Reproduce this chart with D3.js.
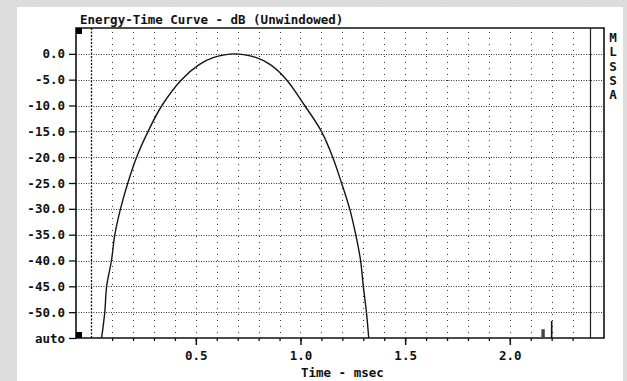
<!DOCTYPE html>
<html>
<head>
<meta charset="utf-8"/>
<title>Energy-Time Curve</title>
<script src="https://d3js.org/d3.v7.min.js"></script>
<style>
  html, body { margin: 0; padding: 0; background: #d6d6d6; }
  text { font-family: "DejaVu Sans Mono", "Liberation Mono", monospace; font-weight: bold; fill: #111; }
</style>
</head>
<body>
<div id="output"></div>
<script>
// ETC curve (time in msec, level in dB)
var curveTime = [0.050, 0.065, 0.074, 0.097, 0.113, 0.140, 0.175, 0.217, 0.272, 0.338, 0.432,
                 0.516, 0.586, 0.686, 0.786, 0.856, 0.933, 1.020, 1.100, 1.154, 1.196, 1.235, 1.264,
                 1.287, 1.300, 1.315, 1.326];
var curveDb   = [-55, -50, -45, -40, -35, -30, -25, -20, -15, -10, -5,
                 -2.1, -0.7, 0, -0.7, -2.1, -5, -10, -15, -20, -25, -30, -35,
                 -40, -45, -50, -55];

// small reflections near 2.2 msec
var spikeTime = [2.159, 2.200];
var spikeDb   = [-53.3, -51.7];

// axis ticks
var yTicks  = [0, -5, -10, -15, -20, -25, -30, -35, -40, -45, -50, -55];
var yLabels = ["0.0", "-5.0", "-10.0", "-15.0", "-20.0", "-25.0", "-30.0", "-35.0", "-40.0", "-45.0", "-50.0", "auto"];
var xMinor  = [0.1, 0.2, 0.3, 0.4, 0.5, 0.6, 0.7, 0.8, 0.9, 1.0, 1.1, 1.2, 1.3, 1.4, 1.5, 1.6, 1.7, 1.8, 1.9, 2.0, 2.1, 2.2, 2.3];
var xMajor  = [0.5, 1.0, 1.5, 2.0];
var cursorTime = 2.383;
var sideLetters = ["M", "L", "S", "S", "A"];

var W = 627, H = 381;
var svg = d3.select("#output").append("svg")
    .attr("width", W).attr("height", H);

// grey stone-like backdrop
var defs = svg.append("defs");
var f = defs.append("filter").attr("id", "stone").attr("x", 0).attr("y", 0).attr("width", 1).attr("height", 1);
f.append("feTurbulence").attr("type", "fractalNoise").attr("baseFrequency", "0.1 0.25").attr("numOctaves", 3).attr("seed", 4);
f.append("feColorMatrix").attr("type", "matrix")
    .attr("values", "0 0 0 0 0.72  0 0 0 0 0.72  0 0 0 0 0.72  -1 0 0 0 0.8");
svg.append("rect").attr("width", W).attr("height", H).attr("fill", "#dcdcdc");
svg.append("rect").attr("width", W).attr("height", H).attr("filter", "url(#stone)").attr("opacity", 0.75);

// white panel
svg.append("rect").attr("x", 17).attr("y", 7).attr("width", 606).attr("height", H - 7).attr("fill", "#fff");

var pLeft = 76, pRight = 604, pTop = 28, pBottom = 338;
var x = d3.scaleLinear().domain([-0.0725, 2.45]).range([pLeft, pRight]);
var y = d3.scaleLinear().domain([5, -55]).range([pTop, pBottom]);

// horizontal grid
svg.append("g").selectAll("line").data(yTicks.slice(0, -1)).enter().append("line")
    .attr("x1", pLeft).attr("x2", pRight)
    .attr("y1", function(d) { return Math.round(y(d)) + 0.5; })
    .attr("y2", function(d) { return Math.round(y(d)) + 0.5; })
    .attr("stroke", "#333").attr("stroke-width", 1).attr("stroke-dasharray", "1,1.5");

// vertical grid
svg.append("g").selectAll("line").data(xMinor).enter().append("line")
    .attr("x1", function(d) { return Math.round(x(d)) + 0.5; })
    .attr("x2", function(d) { return Math.round(x(d)) + 0.5; })
    .attr("y1", pTop + 4).attr("y2", pBottom)
    .attr("stroke", "#333").attr("stroke-width", 1).attr("stroke-dasharray", "1,5");

// time zero marker
svg.append("line")
    .attr("x1", Math.round(x(0)) + 0.5).attr("x2", Math.round(x(0)) + 0.5)
    .attr("y1", pTop).attr("y2", pBottom)
    .attr("stroke", "#111").attr("stroke-width", 1.3).attr("stroke-dasharray", "2,1.5");

// cursor line
svg.append("line")
    .attr("x1", Math.round(x(cursorTime)) + 0.5).attr("x2", Math.round(x(cursorTime)) + 0.5)
    .attr("y1", pTop).attr("y2", pBottom)
    .attr("stroke", "#222").attr("stroke-width", 1.2);

// frame
svg.append("path")
    .attr("d", "M" + pLeft + "," + pBottom + "V" + pTop + "H" + pRight + "V" + pBottom + "Z")
    .attr("fill", "none").attr("stroke", "#111").attr("stroke-width", 1.6);

// y axis
var yAxis = svg.append("g")
    .attr("transform", "translate(" + pLeft + ",0)")
    .call(d3.axisLeft(y).tickValues(yTicks)
        .tickFormat(function(d, i) { return yLabels[i]; })
        .tickSize(7).tickPadding(4));
yAxis.select(".domain").remove();
yAxis.selectAll("line").attr("stroke", "#111").attr("stroke-width", 1.3);
yAxis.selectAll("text").attr("font-family", null).attr("font-size", 12.5).attr("fill", "#111");

// x axis, minor then major
var xMinorAxis = svg.append("g")
    .attr("transform", "translate(0," + pBottom + ")")
    .call(d3.axisBottom(x).tickValues(xMinor).tickSize(3).tickFormat(""));
xMinorAxis.select(".domain").remove();
xMinorAxis.selectAll("line").attr("stroke", "#111").attr("stroke-width", 1.3);

var xMajorAxis = svg.append("g")
    .attr("transform", "translate(0," + pBottom + ")")
    .call(d3.axisBottom(x).tickValues(xMajor).tickSize(7).tickPadding(6)
        .tickFormat(d3.format(".1f")));
xMajorAxis.select(".domain").remove();
xMajorAxis.selectAll("line").attr("stroke", "#111").attr("stroke-width", 1.5);
xMajorAxis.selectAll("text").attr("font-family", null).attr("font-size", 12.5).attr("fill", "#111");

// curve
var etcLine = d3.line()
    .x(function(d, i) { return x(curveTime[i]); })
    .y(function(d) { return y(d); })
    .curve(d3.curveCatmullRom.alpha(0.5));
svg.append("path").datum(curveDb)
    .attr("d", etcLine)
    .attr("fill", "none").attr("stroke", "#151515").attr("stroke-width", 1.4);

// reflections
svg.append("rect")
    .attr("x", x(spikeTime[0]) - 1.7).attr("width", 3.4)
    .attr("y", y(spikeDb[0])).attr("height", pBottom - y(spikeDb[0]))
    .attr("fill", "#444");
svg.append("line")
    .attr("x1", x(spikeTime[1])).attr("x2", x(spikeTime[1]))
    .attr("y1", y(spikeDb[1])).attr("y2", pBottom)
    .attr("stroke", "#111").attr("stroke-width", 1.6);

// corner markers
svg.append("rect").attr("x", pLeft).attr("y", pTop).attr("width", 6).attr("height", 6).attr("fill", "#000");
svg.append("rect").attr("x", pLeft).attr("y", pBottom - 6).attr("width", 6).attr("height", 6).attr("fill", "#000");

// title and axis label
svg.append("text").attr("x", 80).attr("y", 24)
    .attr("font-size", 12.5).text("Energy-Time Curve - dB (Unwindowed)");
svg.append("text").attr("x", x(1.2)).attr("y", 377)
    .attr("text-anchor", "middle").attr("font-size", 12.5).text("Time - msec");

// side letters
svg.append("g").selectAll("text").data(sideLetters).enter().append("text")
    .attr("x", 613).attr("y", function(d, i) { return 42 + i * 14.3; })
    .attr("text-anchor", "middle").attr("font-size", 12.5)
    .text(function(d) { return d; });
</script>
</body>
</html>
